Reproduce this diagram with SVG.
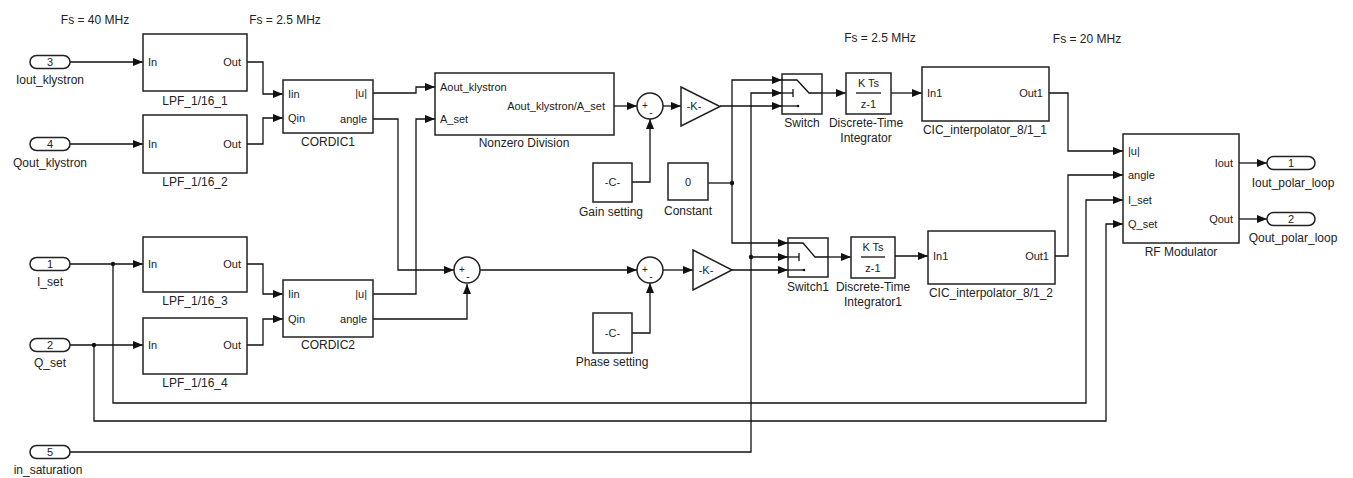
<svg xmlns="http://www.w3.org/2000/svg" width="1353" height="478" viewBox="0 0 1353 478">
<style>
.blk{fill:#fff;stroke:#222;stroke-width:1.5}
.ln{fill:none;stroke:#111;stroke-width:1.3}
.t{font-family:"Liberation Sans",Arial,sans-serif;font-size:12px;fill:#222}
.p{font-family:"Liberation Sans",Arial,sans-serif;font-size:11px;fill:#222}
.s{font-family:"Liberation Sans",Arial,sans-serif;font-size:10px;fill:#222}
.m{text-anchor:middle}
.e{text-anchor:end}
.dot{fill:#111}
</style>
<defs>
<marker id="ah" markerWidth="10" markerHeight="8" refX="10" refY="4" orient="auto" markerUnits="userSpaceOnUse"><path d="M0,0 L10,4 L0,8 z" fill="#111"/></marker>
</defs>
<rect width="1353" height="478" fill="#fff"/>

<g id="rate-labels">
<text class="t m" x="95" y="24">Fs = 40 MHz</text>
<text class="t m" x="285" y="24">Fs = 2.5 MHz</text>
<text class="t m" x="880" y="42">Fs = 2.5 MHz</text>
<text class="t m" x="1087" y="43">Fs = 20 MHz</text>
</g>

<g id="connectors">
<path class="ln" marker-end="url(#ah)" d="M70,62 H143"/>
<path class="ln" marker-end="url(#ah)" d="M70,144 H143"/>
<path class="ln" marker-end="url(#ah)" d="M70,264 H143"/>
<path class="ln" marker-end="url(#ah)" d="M70,345 H143"/>
<path class="ln" marker-end="url(#ah)" d="M247,62 H263 V94 H283"/>
<path class="ln" marker-end="url(#ah)" d="M247,144 H263 V118 H283"/>
<path class="ln" marker-end="url(#ah)" d="M247,264 H263 V294 H283"/>
<path class="ln" marker-end="url(#ah)" d="M247,345 H263 V319 H283"/>
<path class="ln" marker-end="url(#ah)" d="M373,93 H416 V87 H435"/>
<path class="ln" marker-end="url(#ah)" d="M373,119 H398 V270 H454"/>
<path class="ln" marker-end="url(#ah)" d="M373,294 H416 V119 H435"/>
<path class="ln" marker-end="url(#ah)" d="M373,319 H467 V284"/>
<path class="ln" marker-end="url(#ah)" d="M614,106 H637"/>
<path class="ln" marker-end="url(#ah)" d="M632,182 H650 V119"/>
<path class="ln" marker-end="url(#ah)" d="M663,106 H681"/>
<path class="ln" marker-end="url(#ah)" d="M480,270 H637"/>
<path class="ln" marker-end="url(#ah)" d="M632,333 H650 V283"/>
<path class="ln" marker-end="url(#ah)" d="M663,270 H693"/>
<path class="ln" marker-end="url(#ah)" d="M720,106 H782"/>
<path class="ln" d="M708,183 H732"/>
<path class="ln" marker-end="url(#ah)" d="M732,183 V80 H782"/>
<path class="ln" marker-end="url(#ah)" d="M732,183 V243 H788"/>
<path class="ln" marker-end="url(#ah)" d="M70,452 H751 V93 H782"/>
<path class="ln" marker-end="url(#ah)" d="M751,257 H788"/>
<path class="ln" marker-end="url(#ah)" d="M732,270 H788"/>
<path class="ln" marker-end="url(#ah)" d="M822,93 H846"/>
<path class="ln" marker-end="url(#ah)" d="M891,93 H922"/>
<path class="ln" marker-end="url(#ah)" d="M828,257 H851"/>
<path class="ln" marker-end="url(#ah)" d="M895,256 H928"/>
<path class="ln" marker-end="url(#ah)" d="M1049,93 H1068 V151 H1123"/>
<path class="ln" marker-end="url(#ah)" d="M1055,256 H1068 V175 H1123"/>
<path class="ln" marker-end="url(#ah)" d="M113,264 V403 H1086 V200 H1123"/>
<path class="ln" marker-end="url(#ah)" d="M94,345 V421 H1106 V224 H1123"/>
<path class="ln" marker-end="url(#ah)" d="M1239,163 H1267"/>
<path class="ln" marker-end="url(#ah)" d="M1239,219 H1267"/>
<circle class="dot" cx="113" cy="264" r="2.2"/>
<circle class="dot" cx="94" cy="345" r="2.2"/>
<circle class="dot" cx="732" cy="183" r="2.2"/>
<circle class="dot" cx="751" cy="257" r="2.2"/>
</g>

<g id="in3"><rect class="blk" x="30" y="55.5" width="40" height="13" rx="6.5"/><text class="p m" x="50" y="66">3</text><text class="t m" x="50" y="84">Iout_klystron</text></g>
<g id="in4"><rect class="blk" x="30" y="137.5" width="40" height="13" rx="6.5"/><text class="p m" x="50" y="148">4</text><text class="t m" x="50" y="167">Qout_klystron</text></g>
<g id="in1"><rect class="blk" x="30" y="257.5" width="40" height="13" rx="6.5"/><text class="p m" x="50" y="268">1</text><text class="t m" x="50" y="286">I_set</text></g>
<g id="in2"><rect class="blk" x="30" y="338.5" width="40" height="13" rx="6.5"/><text class="p m" x="50" y="349">2</text><text class="t m" x="50" y="367">Q_set</text></g>
<g id="in5"><rect class="blk" x="30" y="445.5" width="40" height="13" rx="6.5"/><text class="p m" x="50" y="456">5</text><text class="t m" x="48" y="474">in_saturation</text></g>

<g id="lpf1"><rect class="blk" x="143" y="34" width="104" height="57"/><text class="p" x="148" y="66">In</text><text class="p e" x="241" y="66">Out</text><text class="t m" x="195" y="105">LPF_1/16_1</text></g>
<g id="lpf2"><rect class="blk" x="143" y="115" width="104" height="58"/><text class="p" x="148" y="148">In</text><text class="p e" x="241" y="148">Out</text><text class="t m" x="195" y="186">LPF_1/16_2</text></g>
<g id="lpf3"><rect class="blk" x="143" y="237" width="104" height="55"/><text class="p" x="148" y="268">In</text><text class="p e" x="241" y="268">Out</text><text class="t m" x="195" y="305">LPF_1/16_3</text></g>
<g id="lpf4"><rect class="blk" x="143" y="318" width="104" height="56"/><text class="p" x="148" y="349">In</text><text class="p e" x="241" y="349">Out</text><text class="t m" x="195" y="387">LPF_1/16_4</text></g>

<g id="cordic1"><rect class="blk" x="283" y="80" width="90" height="53"/><text class="p" x="288" y="98">Iin</text><text class="p" x="288" y="122">Qin</text><text class="p e" x="367" y="97">|u|</text><text class="p e" x="367" y="123">angle</text><text class="t m" x="328" y="146">CORDIC1</text></g>
<g id="cordic2"><rect class="blk" x="283" y="280" width="90" height="57"/><text class="p" x="288" y="298">Iin</text><text class="p" x="288" y="323">Qin</text><text class="p e" x="367" y="298">|u|</text><text class="p e" x="367" y="323">angle</text><text class="t m" x="328" y="349">CORDIC2</text></g>

<g id="nzdiv"><rect class="blk" x="435" y="73" width="179" height="62"/><text class="p" x="440" y="91">Aout_klystron</text><text class="p" x="440" y="123">A_set</text><text class="p e" x="605" y="110">Aout_klystron/A_set</text><text class="t m" x="524" y="147">Nonzero Division</text></g>

<g id="sum1"><circle class="blk" cx="650" cy="106" r="13"/><text class="s m" x="645" y="109">+</text><text class="s m" x="651" y="116">-</text></g>
<g id="sum2"><circle class="blk" cx="467" cy="270" r="13"/><text class="s m" x="462" y="273">+</text><text class="s m" x="468" y="280">-</text></g>
<g id="sum3"><circle class="blk" cx="650" cy="270" r="13"/><text class="s m" x="645" y="273">+</text><text class="s m" x="651" y="280">-</text></g>

<g id="gainset"><rect class="blk" x="593" y="163" width="39" height="39"/><text class="p m" x="612.5" y="186">-C-</text><text class="t m" x="611" y="216">Gain setting</text></g>
<g id="phaseset"><rect class="blk" x="593" y="313" width="39" height="40"/><text class="p m" x="612.5" y="337">-C-</text><text class="t m" x="612" y="366">Phase setting</text></g>
<g id="const0"><rect class="blk" x="668" y="163" width="40" height="37"/><text class="p m" x="688" y="186">0</text><text class="t m" x="688" y="215">Constant</text></g>

<g id="gain1"><polygon class="blk" points="681,87 720,106.5 681,126"/><text class="p m" x="694" y="110">-K-</text></g>
<g id="gain2"><polygon class="blk" points="693,250 732,270 693,290"/><text class="p m" x="706" y="274">-K-</text></g>

<g id="switch"><rect class="blk" x="782" y="74" width="40" height="40"/><polyline class="ln" points="782,80 797,80 809,93 822,93"/><line class="ln" x1="782" y1="93" x2="793" y2="93"/><line class="ln" x1="793" y1="89" x2="793" y2="97"/><line class="ln" x1="782" y1="106" x2="797" y2="106"/><circle class="dot" cx="798" cy="106" r="1.3"/><text class="t m" x="802" y="127">Switch</text></g>
<g id="switch1"><rect class="blk" x="788" y="238" width="40" height="39"/><polyline class="ln" points="788,243 803,243 815,257 828,257"/><line class="ln" x1="788" y1="257" x2="799" y2="257"/><line class="ln" x1="799" y1="253" x2="799" y2="261"/><line class="ln" x1="788" y1="270" x2="803" y2="270"/><circle class="dot" cx="804" cy="270" r="1.3"/><text class="t m" x="808" y="291">Switch1</text></g>

<g id="dti"><rect class="blk" x="846" y="73" width="45" height="41"/><text class="p m" x="868.5" y="87">K Ts</text><line class="ln" x1="856" y1="93" x2="881" y2="93"/><text class="p m" x="868.5" y="108">z-1</text><text class="t m" x="866" y="127">Discrete-Time</text><text class="t m" x="866" y="142">Integrator</text></g>
<g id="dti1"><rect class="blk" x="851" y="237" width="44" height="41"/><text class="p m" x="873" y="251">K Ts</text><line class="ln" x1="861" y1="257" x2="885" y2="257"/><text class="p m" x="873" y="272">z-1</text><text class="t m" x="873" y="291">Discrete-Time</text><text class="t m" x="873" y="306">Integrator1</text></g>

<g id="cic1"><rect class="blk" x="922" y="67" width="127" height="54"/><text class="p" x="927" y="97">In1</text><text class="p e" x="1043" y="97">Out1</text><text class="t m" x="985" y="134">CIC_interpolator_8/1_1</text></g>
<g id="cic2"><rect class="blk" x="928" y="231" width="127" height="53"/><text class="p" x="933" y="260">In1</text><text class="p e" x="1049" y="260">Out1</text><text class="t m" x="991" y="297">CIC_interpolator_8/1_2</text></g>

<g id="rfmod"><rect class="blk" x="1123" y="134" width="116" height="109"/><text class="p" x="1128" y="155">|u|</text><text class="p" x="1128" y="179">angle</text><text class="p" x="1128" y="204">I_set</text><text class="p" x="1128" y="228">Q_set</text><text class="p e" x="1233" y="167">Iout</text><text class="p e" x="1233" y="223">Qout</text><text class="t m" x="1181" y="256">RF Modulator</text></g>

<g id="out1"><rect class="blk" x="1267" y="156.5" width="48" height="13" rx="6.5"/><text class="p m" x="1291" y="167">1</text><text class="t m" x="1293" y="187">Iout_polar_loop</text></g>
<g id="out2"><rect class="blk" x="1267" y="212.5" width="48" height="13" rx="6.5"/><text class="p m" x="1291" y="223">2</text><text class="t m" x="1293" y="242">Qout_polar_loop</text></g>
</svg>
